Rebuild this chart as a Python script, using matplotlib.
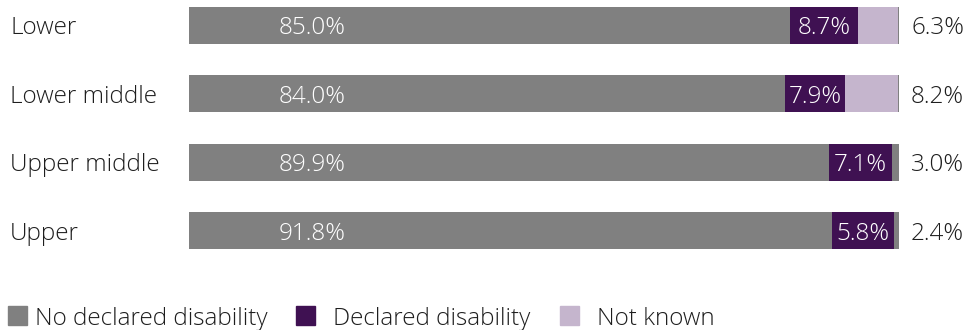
import numpy as np
import matplotlib.pyplot as plt
from matplotlib.patches import Rectangle

plt.rcParams['font.family'] = ['Open Sans', 'DejaVu Sans']

groups = ['Lower', 'Lower middle', 'Upper middle', 'Upper']
series_names = ['No declared disability', 'Declared disability', 'Not known']

# values as printed on the chart
no_declared = [85.0, 84.0, 89.9, 91.8]
declared = [8.7, 7.9, 7.1, 5.8]
not_known = [6.3, 8.2, 3.0, 2.4]

# segment lengths as drawn in the picture (they don't quite follow the labels)
bar_no_declared = [84.6, 83.9, 90.1, 90.6]
bar_declared = [9.6, 8.5, 8.9, 8.7]
bar_not_known = [5.6, 7.4, 0.0, 0.0]

c_grey = '#808080'
c_purple = '#3f1152'
c_lav = '#c5b5cd'
c_text = '#1e1e1e'

fig = plt.figure(figsize=(9.66, 3.3), dpi=100)
ax = fig.add_axes([189 / 966, 81 / 330, 710 / 966, 242 / 330])

y = np.arange(len(groups))
h = 0.54
b1 = np.array(bar_no_declared)
b2 = np.array(bar_declared)
b3 = np.array(bar_not_known)

# grey track behind the stack
ax.barh(y, [100] * len(y), height=h, color=c_grey)
ax.barh(y, b1, height=h, color=c_grey)
ax.barh(y, b2, left=b1, height=h, color=c_purple)
ax.barh(y, b3, left=b1 + b2, height=h, color=c_lav)

fs = 17.5
for i in range(len(groups)):
    ax.text(17.4, y[i], '%.1f%%' % no_declared[i], color='white', ha='center',
            va='center_baseline', fontsize=fs, weight='light')
    ax.text(b1[i] + b2[i] / 2, y[i], '%.1f%%' % declared[i], color='white', ha='center',
            va='center_baseline', fontsize=fs, weight='light')
    ax.text(101.7, y[i], '%.1f%%' % not_known[i], color=c_text, ha='left',
            va='center_baseline', fontsize=fs, weight='light')
    ax.text(-25.2, y[i], groups[i], color=c_text, ha='left',
            va='center_baseline', fontsize=fs, weight='light')

ax.set_xlim(0, 100)
ax.set_ylim(3 + h / 2, -h / 2)
ax.axis('off')

# legend drawn by hand: square + label
colors = [c_grey, c_purple, c_lav]
sq_x = [8, 296, 560]
txt_x = [35, 333, 597]
for c, sx, tx, name in zip(colors, sq_x, txt_x, series_names):
    fig.patches.append(Rectangle((sx / 966, 5 / 330), 19 / 966, 19 / 330,
                                 transform=fig.transFigure, color=c))
    fig.text(tx / 966, 14 / 330, name, color=c_text, fontsize=fs, ha='left',
             va='center_baseline', weight='light')

fig.savefig('out.png', dpi=100)
